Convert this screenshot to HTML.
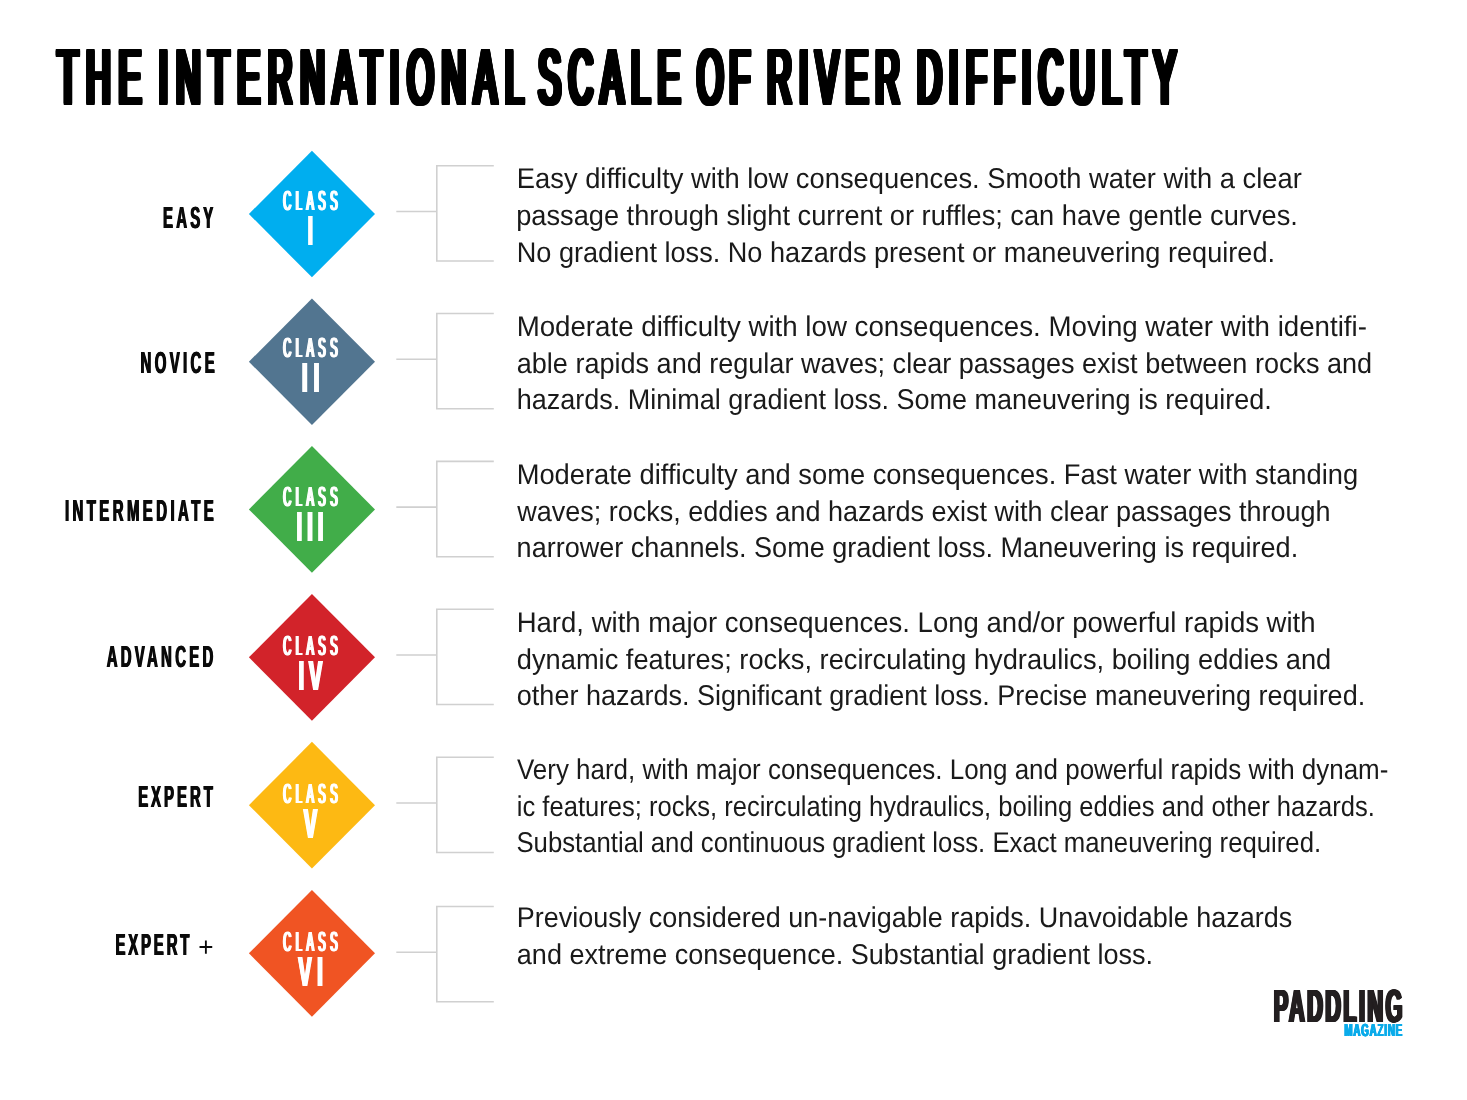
<!DOCTYPE html>
<html lang="en"><head><meta charset="utf-8"><title>The International Scale of River Difficulty</title>
<style>html,body{margin:0;padding:0;background:#fff}
body{width:1467px;height:1100px;position:relative;overflow:hidden;font-family:'Liberation Sans',sans-serif}
h1,p,section,main,footer,div{margin:0;padding:0;font-weight:normal;font-size:0}
.t{position:absolute;left:0;top:0;transform-origin:0 0;white-space:nowrap;line-height:1;margin:0;text-rendering:geometricPrecision}
.b{font-weight:bold}.r{font-weight:normal}
svg{position:absolute;left:0;top:0}</style></head>
<body>
<svg width="1467" height="1100" viewBox="0 0 1467 1100" aria-hidden="true">
<polygon points="248.90,214.00 311.95,150.65 375.00,214.00 311.95,277.35" fill="#00aeef"/>
<path d="M396.3 211.45H436.8M493.8 165.70H436.8V261.00H493.8" fill="none" stroke="#d0d0d0" stroke-width="1.6"/>
<polygon points="248.90,361.75 311.95,298.40 375.00,361.75 311.95,425.10" fill="#527590"/>
<path d="M396.3 359.25H436.8M493.8 313.50H436.8V408.80H493.8" fill="none" stroke="#d0d0d0" stroke-width="1.6"/>
<polygon points="248.90,509.45 311.95,446.10 375.00,509.45 311.95,572.80" fill="#41ad49"/>
<path d="M396.3 507.15H436.8M493.8 461.40H436.8V556.70H493.8" fill="none" stroke="#d0d0d0" stroke-width="1.6"/>
<polygon points="248.90,657.30 311.95,593.95 375.00,657.30 311.95,720.65" fill="#d2232a"/>
<path d="M396.3 655.00H436.8M493.8 609.25H436.8V704.55H493.8" fill="none" stroke="#d0d0d0" stroke-width="1.6"/>
<polygon points="248.90,805.20 311.95,741.85 375.00,805.20 311.95,868.55" fill="#fdb913"/>
<path d="M396.3 802.95H436.8M493.8 757.20H436.8V852.50H493.8" fill="none" stroke="#d0d0d0" stroke-width="1.6"/>
<polygon points="248.90,953.30 311.95,889.95 375.00,953.30 311.95,1016.65" fill="#f05423"/>
<path d="M396.3 952.20H436.8M493.8 906.45H436.8V1001.75H493.8" fill="none" stroke="#d0d0d0" stroke-width="1.6"/>
</svg>
<main>
<h1><span class="t r" style="transform:matrix(0.4300,0,0,1.0000,57.63,38.00);font-size:78.49px;letter-spacing:18.509px;color:#000;text-shadow:0.000px -1px 0 #000,0.000px 1px 0 #000,2.054px -1px 0 #000,2.054px 0 0 #000,2.054px 1px 0 #000,-2.054px -1px 0 #000,-2.054px 0 0 #000,-2.054px 1px 0 #000,4.109px -1px 0 #000,4.109px 0 0 #000,4.109px 1px 0 #000,-4.109px -1px 0 #000,-4.109px 0 0 #000,-4.109px 1px 0 #000,6.163px -1px 0 #000,6.163px 0 0 #000,6.163px 1px 0 #000,-6.163px -1px 0 #000,-6.163px 0 0 #000,-6.163px 1px 0 #000;">THE</span> <span class="t r" style="transform:matrix(0.4300,0,0,1.0000,158.56,38.00);font-size:78.49px;letter-spacing:18.893px;color:#000;text-shadow:0.000px -1px 0 #000,0.000px 1px 0 #000,2.054px -1px 0 #000,2.054px 0 0 #000,2.054px 1px 0 #000,-2.054px -1px 0 #000,-2.054px 0 0 #000,-2.054px 1px 0 #000,4.109px -1px 0 #000,4.109px 0 0 #000,4.109px 1px 0 #000,-4.109px -1px 0 #000,-4.109px 0 0 #000,-4.109px 1px 0 #000,6.163px -1px 0 #000,6.163px 0 0 #000,6.163px 1px 0 #000,-6.163px -1px 0 #000,-6.163px 0 0 #000,-6.163px 1px 0 #000;">INTERNATIONAL</span> <span class="t r" style="transform:matrix(0.4300,0,0,1.0000,538.29,38.00);font-size:78.49px;letter-spacing:18.124px;color:#000;text-shadow:0.000px -1px 0 #000,0.000px 1px 0 #000,2.054px -1px 0 #000,2.054px 0 0 #000,2.054px 1px 0 #000,-2.054px -1px 0 #000,-2.054px 0 0 #000,-2.054px 1px 0 #000,4.109px -1px 0 #000,4.109px 0 0 #000,4.109px 1px 0 #000,-4.109px -1px 0 #000,-4.109px 0 0 #000,-4.109px 1px 0 #000,6.163px -1px 0 #000,6.163px 0 0 #000,6.163px 1px 0 #000,-6.163px -1px 0 #000,-6.163px 0 0 #000,-6.163px 1px 0 #000;">SCALE</span> <span class="t r" style="transform:matrix(0.4300,0,0,1.0000,697.05,38.00);font-size:78.49px;letter-spacing:13.917px;color:#000;text-shadow:0.000px -1px 0 #000,0.000px 1px 0 #000,2.054px -1px 0 #000,2.054px 0 0 #000,2.054px 1px 0 #000,-2.054px -1px 0 #000,-2.054px 0 0 #000,-2.054px 1px 0 #000,4.109px -1px 0 #000,4.109px 0 0 #000,4.109px 1px 0 #000,-4.109px -1px 0 #000,-4.109px 0 0 #000,-4.109px 1px 0 #000,6.163px -1px 0 #000,6.163px 0 0 #000,6.163px 1px 0 #000,-6.163px -1px 0 #000,-6.163px 0 0 #000,-6.163px 1px 0 #000;">OF</span> <span class="t r" style="transform:matrix(0.4300,0,0,1.0000,767.36,38.00);font-size:78.49px;letter-spacing:17.059px;color:#000;text-shadow:0.000px -1px 0 #000,0.000px 1px 0 #000,2.054px -1px 0 #000,2.054px 0 0 #000,2.054px 1px 0 #000,-2.054px -1px 0 #000,-2.054px 0 0 #000,-2.054px 1px 0 #000,4.109px -1px 0 #000,4.109px 0 0 #000,4.109px 1px 0 #000,-4.109px -1px 0 #000,-4.109px 0 0 #000,-4.109px 1px 0 #000,6.163px -1px 0 #000,6.163px 0 0 #000,6.163px 1px 0 #000,-6.163px -1px 0 #000,-6.163px 0 0 #000,-6.163px 1px 0 #000;">RIVER</span> <span class="t r" style="transform:matrix(0.4300,0,0,1.0000,917.26,38.00);font-size:78.49px;letter-spacing:17.180px;color:#000;text-shadow:0.000px -1px 0 #000,0.000px 1px 0 #000,2.054px -1px 0 #000,2.054px 0 0 #000,2.054px 1px 0 #000,-2.054px -1px 0 #000,-2.054px 0 0 #000,-2.054px 1px 0 #000,4.109px -1px 0 #000,4.109px 0 0 #000,4.109px 1px 0 #000,-4.109px -1px 0 #000,-4.109px 0 0 #000,-4.109px 1px 0 #000,6.163px -1px 0 #000,6.163px 0 0 #000,6.163px 1px 0 #000,-6.163px -1px 0 #000,-6.163px 0 0 #000,-6.163px 1px 0 #000;">DIFFICULTY</span></h1>
<section class="row">
<div class="level"><span class="t b" style="transform:matrix(0.4900,0,0,1.0000,162.95,203.00);font-size:30.52px;letter-spacing:6.579px;color:#0a0a0a;text-shadow:1.020px 0 0 #0a0a0a,-1.020px 0 0 #0a0a0a;">EASY</span></div>
<div class="badge"><span class="t r" style="transform:matrix(0.4000,0,0,1.0000,283.29,187.00);font-size:27.62px;letter-spacing:11.321px;color:#fff;text-shadow:1.250px 0 0 #fff,-1.250px 0 0 #fff,2.500px 0 0 #fff,-2.500px 0 0 #fff;">CLASS</span>
<span class="t b" style="transform:matrix(0.4285,0,0,1.0000,307.84,210.00);font-size:42.15px;color:#fff;text-shadow:1.079px 0 0 #fff,-1.079px 0 0 #fff,2.159px 0 0 #fff,-2.159px 0 0 #fff;">I</span></div>
<p class="desc"><span class="t r" style="transform:matrix(0.9592,0,0,1.0000,516.77,165.00);font-size:28.5px;color:#1a1a1a;">Easy difficulty with low consequences. Smooth water with a clear</span>
<span class="t r" style="transform:matrix(0.9550,0,0,1.0000,516.14,202.00);font-size:28.5px;color:#1a1a1a;">passage through slight current or ruffles; can have gentle curves.</span>
<span class="t r" style="transform:matrix(0.9516,0,0,1.0000,516.72,239.00);font-size:28.5px;color:#1a1a1a;">No gradient loss. No hazards present or maneuvering required.</span></p>
</section>
<section class="row">
<div class="level"><span class="t b" style="transform:matrix(0.4900,0,0,1.0000,140.44,348.00);font-size:30.52px;letter-spacing:6.912px;color:#0a0a0a;text-shadow:1.020px 0 0 #0a0a0a,-1.020px 0 0 #0a0a0a;">NOVICE</span></div>
<div class="badge"><span class="t r" style="transform:matrix(0.4000,0,0,1.0000,283.29,334.00);font-size:27.62px;letter-spacing:11.321px;color:#fff;text-shadow:1.250px 0 0 #fff,-1.250px 0 0 #fff,2.500px 0 0 #fff,-2.500px 0 0 #fff;">CLASS</span>
<span class="t b" style="transform:matrix(0.4700,0,0,1.0000,302.03,357.00);font-size:42.15px;letter-spacing:13.158px;color:#fff;text-shadow:0.984px 0 0 #fff,-0.984px 0 0 #fff,1.968px 0 0 #fff,-1.968px 0 0 #fff;">II</span></div>
<p class="desc"><span class="t r" style="transform:matrix(0.9712,0,0,1.0000,516.63,313.00);font-size:28.5px;color:#1a1a1a;">Moderate difficulty with low consequences. Moving water with identifi-</span>
<span class="t r" style="transform:matrix(0.9489,0,0,1.0000,516.78,350.00);font-size:28.5px;color:#1a1a1a;">able rapids and regular waves; clear passages exist between rocks and</span>
<span class="t r" style="transform:matrix(0.9475,0,0,1.0000,516.75,386.00);font-size:28.5px;color:#1a1a1a;">hazards. Minimal gradient loss. Some maneuvering is required.</span></p>
</section>
<section class="row">
<div class="level"><span class="t b" style="transform:matrix(0.4900,0,0,1.0000,64.98,496.00);font-size:30.52px;letter-spacing:6.985px;color:#0a0a0a;text-shadow:1.020px 0 0 #0a0a0a,-1.020px 0 0 #0a0a0a;">INTERMEDIATE</span></div>
<div class="badge"><span class="t r" style="transform:matrix(0.4000,0,0,1.0000,283.29,483.00);font-size:27.62px;letter-spacing:11.321px;color:#fff;text-shadow:1.250px 0 0 #fff,-1.250px 0 0 #fff,2.500px 0 0 #fff,-2.500px 0 0 #fff;">CLASS</span>
<span class="t b" style="transform:matrix(0.4700,0,0,1.0000,296.60,506.00);font-size:42.15px;letter-spacing:10.851px;color:#fff;text-shadow:0.984px 0 0 #fff,-0.984px 0 0 #fff,1.968px 0 0 #fff,-1.968px 0 0 #fff;">III</span></div>
<p class="desc"><span class="t r" style="transform:matrix(0.9576,0,0,1.0000,516.70,461.00);font-size:28.5px;color:#1a1a1a;">Moderate difficulty and some consequences. Fast water with standing</span>
<span class="t r" style="transform:matrix(0.9472,0,0,1.0000,517.31,498.00);font-size:28.5px;color:#1a1a1a;">waves; rocks, eddies and hazards exist with clear passages through</span>
<span class="t r" style="transform:matrix(0.9488,0,0,1.0000,516.59,534.00);font-size:28.5px;color:#1a1a1a;">narrower channels. Some gradient loss. Maneuvering is required.</span></p>
</section>
<section class="row">
<div class="level"><span class="t b" style="transform:matrix(0.4900,0,0,1.0000,106.66,642.00);font-size:30.52px;letter-spacing:6.733px;color:#0a0a0a;text-shadow:1.020px 0 0 #0a0a0a,-1.020px 0 0 #0a0a0a;">ADVANCED</span></div>
<div class="badge"><span class="t r" style="transform:matrix(0.4000,0,0,1.0000,283.29,632.00);font-size:27.62px;letter-spacing:11.321px;color:#fff;text-shadow:1.250px 0 0 #fff,-1.250px 0 0 #fff,2.500px 0 0 #fff,-2.500px 0 0 #fff;">CLASS</span>
<span class="t b" style="transform:matrix(0.4700,0,0,1.0000,298.60,655.00);font-size:42.15px;letter-spacing:10.405px;color:#fff;text-shadow:0.984px 0 0 #fff,-0.984px 0 0 #fff,1.968px 0 0 #fff,-1.968px 0 0 #fff;">IV</span></div>
<p class="desc"><span class="t r" style="transform:matrix(0.9661,0,0,1.0000,516.66,609.00);font-size:28.5px;color:#1a1a1a;">Hard, with major consequences. Long and/or powerful rapids with</span>
<span class="t r" style="transform:matrix(0.9556,0,0,1.0000,516.84,646.00);font-size:28.5px;color:#1a1a1a;">dynamic features; rocks, recirculating hydraulics, boiling eddies and</span>
<span class="t r" style="transform:matrix(0.9478,0,0,1.0000,516.83,682.00);font-size:28.5px;color:#1a1a1a;">other hazards. Significant gradient loss. Precise maneuvering required.</span></p>
</section>
<section class="row">
<div class="level"><span class="t b" style="transform:matrix(0.4900,0,0,1.0000,138.15,782.00);font-size:30.52px;letter-spacing:6.097px;color:#0a0a0a;text-shadow:1.020px 0 0 #0a0a0a,-1.020px 0 0 #0a0a0a;">EXPERT</span></div>
<div class="badge"><span class="t r" style="transform:matrix(0.4000,0,0,1.0000,283.29,780.00);font-size:27.62px;letter-spacing:11.321px;color:#fff;text-shadow:1.250px 0 0 #fff,-1.250px 0 0 #fff,2.500px 0 0 #fff,-2.500px 0 0 #fff;">CLASS</span>
<span class="t b" style="transform:matrix(0.4745,0,0,1.0000,303.72,803.00);font-size:42.15px;color:#fff;text-shadow:0.975px 0 0 #fff,-0.975px 0 0 #fff,1.950px 0 0 #fff,-1.950px 0 0 #fff;">V</span></div>
<p class="desc"><span class="t r" style="transform:matrix(0.9107,0,0,1.0000,516.93,756.00);font-size:28.5px;color:#1a1a1a;">Very hard, with major consequences. Long and powerful rapids with dynam-</span>
<span class="t r" style="transform:matrix(0.8967,0,0,1.0000,516.81,793.00);font-size:28.5px;color:#1a1a1a;">ic features; rocks, recirculating hydraulics, boiling eddies and other hazards.</span>
<span class="t r" style="transform:matrix(0.9021,0,0,1.0000,516.43,829.00);font-size:28.5px;color:#1a1a1a;">Substantial and continuous gradient loss. Exact maneuvering required.</span></p>
</section>
<section class="row">
<div class="level"><span class="t b" style="transform:matrix(0.4900,0,0,1.0000,115.49,930.00);font-size:30.52px;letter-spacing:5.758px;color:#0a0a0a;text-shadow:1.020px 0 0 #0a0a0a,-1.020px 0 0 #0a0a0a;">EXPERT</span>
<span class="t r" style="transform:matrix(0.9683,0,0,1.0000,198.26,934.00);font-size:27.0px;color:#0a0a0a;">+</span></div>
<div class="badge"><span class="t r" style="transform:matrix(0.4000,0,0,1.0000,283.29,928.00);font-size:27.62px;letter-spacing:11.321px;color:#fff;text-shadow:1.250px 0 0 #fff,-1.250px 0 0 #fff,2.500px 0 0 #fff,-2.500px 0 0 #fff;">CLASS</span>
<span class="t b" style="transform:matrix(0.4700,0,0,1.0000,298.33,951.00);font-size:42.15px;letter-spacing:12.232px;color:#fff;text-shadow:0.984px 0 0 #fff,-0.984px 0 0 #fff,1.968px 0 0 #fff,-1.968px 0 0 #fff;">VI</span></div>
<p class="desc"><span class="t r" style="transform:matrix(0.9467,0,0,1.0000,516.74,904.00);font-size:28.5px;color:#1a1a1a;">Previously considered un-navigable rapids. Unavoidable hazards</span>
<span class="t r" style="transform:matrix(0.9495,0,0,1.0000,516.78,941.00);font-size:28.5px;color:#1a1a1a;">and extreme consequence. Substantial gradient loss.</span></p>
</section>
<footer class="logo"><span class="t b" style="transform:matrix(0.4700,0,0,1.0000,1273.69,983.00);font-size:46.51px;letter-spacing:4.956px;color:#231f20;text-shadow:0.922px 0 0 #231f20,-0.922px 0 0 #231f20,1.844px 0 0 #231f20,-1.844px 0 0 #231f20,2.766px 0 0 #231f20,-2.766px 0 0 #231f20;">PADDLING</span>
<span class="t b" style="transform:matrix(0.5600,0,0,1.0000,1344.41,1022.00);font-size:17.44px;letter-spacing:1.446px;color:#0aabea;text-shadow:0.536px 0 0 #0aabea,-0.536px 0 0 #0aabea,1.071px 0 0 #0aabea,-1.071px 0 0 #0aabea;">MAGAZINE</span></footer>
</main>
</body></html>
